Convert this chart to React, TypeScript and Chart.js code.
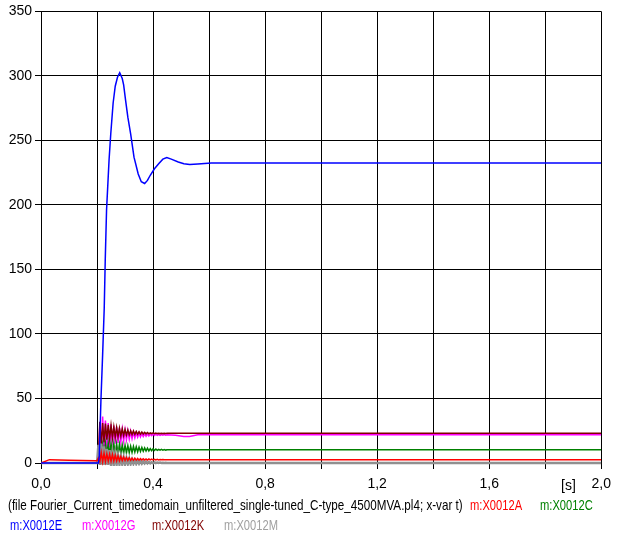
import React, { useEffect, useRef } from "react";
import { Chart, registerables } from "chart.js";

Chart.register(...registerables);

const FONT = '"Liberation Sans", Arial, sans-serif';

// Tick labels for the x axis (one per 0.2 s grid line)
const X_LABELS = ["0,0", "", "0,4", "", "0,8", "", "1,2", "", "1,6", "", "2,0"];

// shared time grid for the transient part (s)
const TT = [
  0.2, 0.205, 0.21, 0.215, 0.22, 0.225, 0.23, 0.235, 0.24, 0.245,
  0.25, 0.255, 0.26, 0.265, 0.27, 0.275, 0.28, 0.285, 0.29, 0.295,
  0.3, 0.305, 0.31, 0.315, 0.32, 0.325, 0.33, 0.335, 0.34, 0.345,
  0.35, 0.355, 0.36, 0.365, 0.37, 0.375, 0.38, 0.385, 0.39, 0.395,
  0.4, 0.405, 0.41, 0.415, 0.42, 0.425, 0.43, 0.435, 0.44, 0.445, 0.45,
];

// m:X0012E (blue)
const E_T = [0, 0.2, 0.205, 0.208, 0.214, 0.22, 0.2257, 0.2293, 0.234, 0.243, 0.249, 0.2575, 0.265, 0.273, 0.281, 0.29, 0.295, 0.302, 0.31, 0.32, 0.332, 0.347, 0.358, 0.37, 0.38, 0.39, 0.405, 0.42, 0.435, 0.449, 0.465, 0.49, 0.51, 0.531, 0.56, 0.608, 2.0];
const E_V = [0, 0, 0, 5, 49, 84, 120, 157, 196, 235, 255, 279, 292, 299, 302.5, 298, 293, 281, 268, 255, 237, 224, 218, 216.6, 219, 223, 228, 232, 235.5, 236.7, 235.5, 233.3, 232, 231.3, 231.8, 232.5, 232.5];

// m:X0012G (magenta)
const G_PRE_T = [0];
const G_PRE_V = [0];
const G_TR = [
  0, 0, 30, 10, 36, 9, 33, 11, 31, 12,
  30, 14, 29, 15, 28, 15.5, 27, 16.5, 26, 17,
  25.5, 18, 25, 18.5, 24.5, 19, 24, 19.5, 23.5, 20,
  23.2, 20.3, 23, 20.6, 22.8, 20.8, 22.6, 21, 22.5, 21.2,
  22.4, 21.3, 22.3, 21.4, 22.2, 21.5, 22.1, 21.5, 22, 21.6, 21.9,
];
const G_POST_T = [0.48, 0.51, 0.53, 0.56, 0.6, 2.0];
const G_POST_V = [21.5, 20.6, 20.6, 21.8, 21.8, 21.8];

// m:X0012K (dark red)
const K_PRE_T = [0];
const K_PRE_V = [0];
const K_TR = [
  0, 5, 32, 14, 31, 16, 30.5, 18, 29.5, 19,
  29, 19.5, 28, 20, 27.5, 20.5, 27, 21, 26.5, 21.3,
  26, 21.6, 25.5, 21.8, 25, 22, 24.8, 22.2, 24.5, 22.3,
  24.2, 22.4, 24, 22.5, 23.8, 22.6, 23.6, 22.6, 23.4, 22.7,
  23.3, 22.8, 23.2, 22.8, 23.1, 22.9, 23.1, 22.9, 23, 22.9, 23,
];
const K_POST_T = [2.0];
const K_POST_V = [23];

// m:X0012C (green)
const C_PRE_T = [0];
const C_PRE_V = [0];
const C_TR = [
  0, 0, 3, 1, 14, 5, 15, 5.5, 15.5, 6,
  15, 6.5, 15, 6.5, 14.8, 7, 14.5, 7, 14, 7.5,
  13.8, 7.8, 13.5, 8, 13, 8.2, 12.8, 8.5, 12.5, 8.7,
  12.2, 9, 12, 9.1, 11.7, 9.3, 11.5, 9.4, 11.2, 9.6,
  11, 9.7, 10.8, 9.8, 10.6, 9.9, 10.5, 9.9, 10.4, 10, 10.3,
];
const C_POST_T = [2.0];
const C_POST_V = [10.2];

// m:X0012A (red)
const A_PRE_T = [0, 0.03, 0.1, 0.195];
const A_PRE_V = [0, 2.6, 2.2, 1.8];
const A_TR = [
  1.8, 4, 1, 8, 1, 7.5, 1.2, 7, 1.5, 6.8,
  1.5, 6.5, 1.6, 6, 1.7, 5.5, 1.8, 5, 1.9, 4.6,
  2, 4.3, 2, 4, 2.1, 3.8, 2.1, 3.6, 2.2, 3.5,
  2.2, 3.4, 2.3, 3.3, 2.3, 3.2, 2.3, 3.1, 2.4, 3,
  2.4, 2.9, 2.4, 2.8, 2.4, 2.7, 2.5, 2.7, 2.5, 2.6, 2.5,
];
const A_POST_T = [2.0];
const A_POST_V = [2.5];

// m:X0012M (gray)
const M_PRE_T = [0];
const M_PRE_V = [0];
const M_TR = [
  0, 14, -1.5, 15, -1.5, 13, -1.5, 11, -1.5, 10,
  -1.5, 8, -1.5, 7, -1.2, 6, -1.2, 5, -1, 4.3,
  -1, 3.8, -0.8, 3.2, -0.8, 2.6, -0.6, 2.2, -0.6, 1.8,
  -0.5, 1.5, -0.4, 1.2, -0.3, 1, -0.3, 0.8, -0.2, 0.6,
  -0.2, 0.5, -0.1, 0.4, 0, 0.3, 0, 0.2, 0, 0.1, 0,
];
const M_POST_T = [2.0];
const M_POST_V = [0];

const pts = (t: number[], v: number[]) => t.map((x, i) => ({ x, y: v[i] }));
const series = (preT: number[], preV: number[], tr: number[], postT: number[], postV: number[]) => [
  ...pts(preT, preV),
  ...pts(TT, tr),
  ...pts(postT, postV),
];

const LEGEND_LINE1 = "(file Fourier_Current_timedomain_unfiltered_single-tuned_C-type_4500MVA.pl4; x-var t)";

export default function App() {
  const ref = useRef<HTMLCanvasElement | null>(null);

  useEffect(() => {
    if (!ref.current) return;
    const ds = (label: string, data: any[], color: string, width: number) => ({
      label,
      data,
      borderColor: color,
      backgroundColor: color,
      borderWidth: width,
      pointRadius: 0,
      tension: 0,
      fill: false,
      clip: { left: 0, top: 0, right: 0, bottom: 3 },
    });
    const chart = new Chart(ref.current, {
      type: "line",
      data: {
        datasets: [
          ds("m:X0012E", pts(E_T, E_V), "#0000ff", 1.5),
          ds("m:X0012A", series(A_PRE_T, A_PRE_V, A_TR, A_POST_T, A_POST_V), "#ff0000", 1.5),
          ds("m:X0012M", series(M_PRE_T, M_PRE_V, M_TR, M_POST_T, M_POST_V), "#909090", 2.5),
          ds("m:X0012C", series(C_PRE_T, C_PRE_V, C_TR, C_POST_T, C_POST_V), "#008000", 1.5),
          ds("m:X0012K", series(K_PRE_T, K_PRE_V, K_TR, K_POST_T, K_POST_V), "#800000", 1.5),
          ds("m:X0012G", series(G_PRE_T, G_PRE_V, G_TR, G_POST_T, G_POST_V), "#ff00ff", 1.5),
        ],
      },
      options: {
        animation: false,
        responsive: true,
        maintainAspectRatio: false,
        layout: { padding: { left: 0, top: 11, right: 10, bottom: 44 } },
        plugins: { legend: { display: false }, tooltip: { enabled: false } },
        scales: {
          x: {
            type: "linear",
            min: 0,
            max: 2,
            afterFit: (s: any) => { s.height = 30; },
            border: { display: true, color: "#000", width: 1 },
            grid: { color: "#000", tickColor: "#000", lineWidth: 1, tickLength: 6 },
            ticks: {
              stepSize: 0.2,
              autoSkip: false,
              maxRotation: 0,
              padding: 7,
              color: "#000",
              font: { family: FONT, size: 14 },
              callback: (_v: any, i: number) => X_LABELS[i] ?? "",
            },
          },
          y: {
            type: "linear",
            min: 0,
            max: 350,
            afterFit: (s: any) => { s.width = 41; },
            border: { display: true, color: "#000", width: 1 },
            grid: { color: "#000", tickColor: "#000", lineWidth: 1, tickLength: 6 },
            ticks: {
              stepSize: 50,
              padding: 3,
              color: "#000",
              font: { family: FONT, size: 14 },
            },
          },
        },
      },
    });
    return () => chart.destroy();
  }, []);

  const txt: React.CSSProperties = {
    position: "absolute",
    fontFamily: FONT,
    fontSize: "14.5px",
    lineHeight: "16px",
    whiteSpace: "nowrap",
    transformOrigin: "0 50%",
    transform: "scaleX(0.77)",
  };

  return (
    <div style={{ position: "fixed", left: 0, top: 0, width: 618, height: 537, background: "#fff" }}>
      <canvas ref={ref} />
      <span style={{ ...txt, fontSize: "14px", lineHeight: "18px", transform: "none", left: 561, top: 476, color: "#000" }}>[s]</span>
      <span style={{ ...txt, transform: "scaleX(0.804)", left: 8, top: 497, color: "#000" }}>{LEGEND_LINE1}</span>
      <span style={{ ...txt, left: 470, top: 497, color: "#ff0000" }}>m:X0012A</span>
      <span style={{ ...txt, left: 540, top: 497, color: "#008000" }}>m:X0012C</span>
      <span style={{ ...txt, left: 10, top: 517, color: "#0000ff" }}>m:X0012E</span>
      <span style={{ ...txt, left: 82, top: 517, color: "#ff00ff" }}>m:X0012G</span>
      <span style={{ ...txt, left: 152, top: 517, color: "#800000" }}>m:X0012K</span>
      <span style={{ ...txt, left: 224, top: 517, color: "#a0a0a0" }}>m:X0012M</span>
    </div>
  );
}
